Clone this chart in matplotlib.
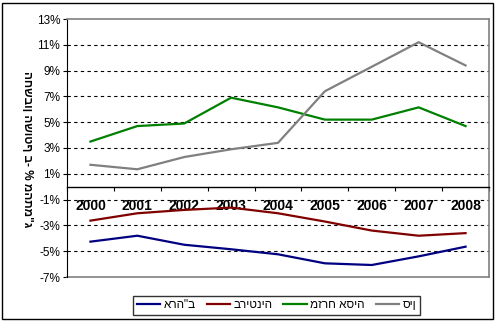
import numpy as np
import matplotlib.pyplot as plt
from matplotlib.patches import Rectangle
from matplotlib.ticker import FixedLocator

plt.rcParams['font.family'] = ['Liberation Sans', 'DejaVu Sans']

years = ['2000', '2001', '2002', '2003', '2004', '2005', '2006', '2007', '2008']
usa = [-4.26, -3.8, -4.5, -4.85, -5.24, -5.94, -6.07, -5.4, -4.65]
uk = [-2.63, -2.06, -1.8, -1.62, -2.06, -2.7, -3.4, -3.8, -3.6]
east_asia = [3.5, 4.7, 4.9, 6.9, 6.15, 5.2, 5.2, 6.15, 4.7]
china = [1.7, 1.35, 2.3, 2.9, 3.4, 7.4, 9.3, 11.2, 9.4]

labels = ['ארה"ב', 'בריטניה', 'מזרח אסיה', 'סין']
colors = ['#000080', '#800000', '#008000', '#808080']
ylabel = 'החשבון השוטף ב- % מהתמ"ג'

fig = plt.figure(figsize=(4.96, 3.22), dpi=100)
ax = fig.add_axes([67/496, 1-277/322, (489-67)/496, (277-19)/322])

x = np.arange(len(years))
for s, lab, c in zip([usa, uk, east_asia, china], labels, colors):
    ax.plot(x, s, color=c, lw=1.6, label=lab)

ax.set_xlim(-0.5, len(years)-0.5)
ax.set_ylim(-7, 13)
yt = np.arange(-7, 14, 2)
ax.set_yticks(yt)
ax.set_yticklabels(['%d%%' % v for v in yt], fontsize=8.5)
ax.tick_params(axis='y', length=3, width=0.8, pad=2)

for v in yt[1:-1]:
    ax.axhline(v, color='black', lw=0.8, ls=(0, (3, 3)), zorder=0)

# category axis sits at zero
ax.spines['bottom'].set_position(('data', 0))
ax.spines['bottom'].set_color('black')
ax.spines['bottom'].set_linewidth(1)
ax.set_xticks(x)
ax.set_xticklabels(years, fontsize=10, fontweight='bold')
ax.xaxis.set_minor_locator(FixedLocator(np.arange(-0.5, len(years), 1)))
ax.tick_params(axis='x', which='major', length=0, pad=9)
ax.tick_params(axis='x', which='minor', length=3, width=0.8, direction='out')
ax.axhline(-7, color='#808080', lw=1.2, clip_on=False)

ax.spines['left'].set_color('black')
ax.spines['top'].set_color('#808080')
ax.spines['right'].set_color('#808080')
ax.spines['top'].set_linewidth(1.2)
ax.spines['right'].set_linewidth(1.2)

fig.text(27/496, 1-149/322, ylabel, rotation=270, ha='center', va='center',
         fontsize=8.5, fontweight='bold')

leg = fig.legend(loc='center', bbox_to_anchor=(276.5/496, 1-305.5/322), ncol=4,
                 fontsize=8.5, handlelength=2.0, columnspacing=0.9, handletextpad=0.3,
                 frameon=True, fancybox=False, borderpad=0.3)
leg.get_frame().set_edgecolor('black')
leg.get_frame().set_linewidth(1)

fig.patches.append(Rectangle((2/496, 3/322), 491/496, 316/322, transform=fig.transFigure,
                             fill=False, edgecolor='black', lw=1))

fig.savefig('out.png', dpi=100)
